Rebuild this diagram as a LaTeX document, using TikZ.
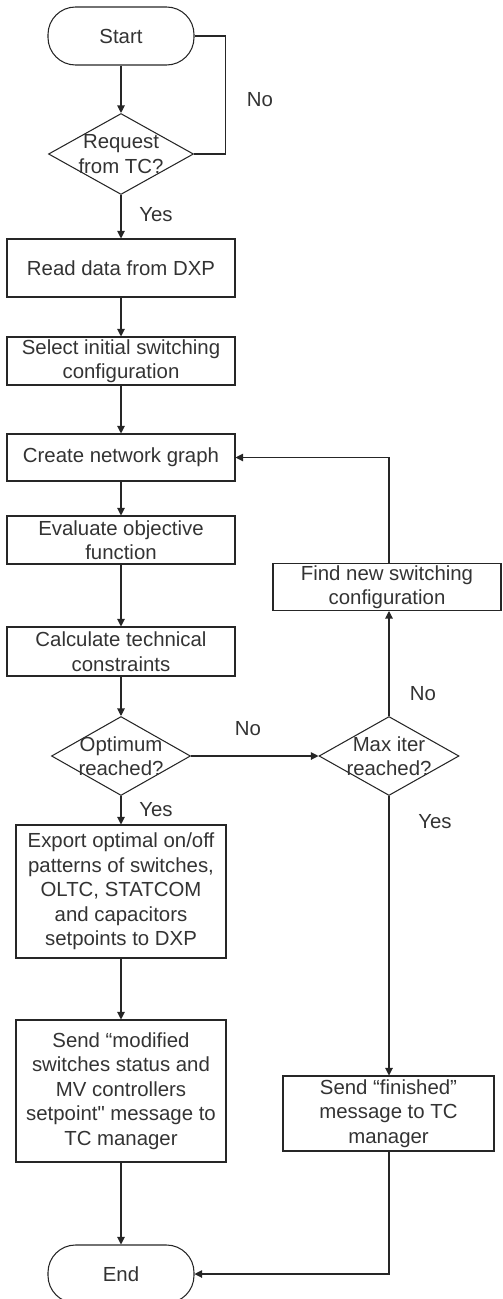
\documentclass[tikz,border=0pt]{standalone}
\usepackage{fontspec}
\setmainfont{Liberation Sans}
\usepackage{tikz}
\usetikzlibrary{shapes,arrows,positioning,calc,arrows.meta}

\begin{document}
\begin{tikzpicture}[
    line width=0.6pt,
    draw=black!85,
    font=\fontsize{11.6}{13.9}\selectfont,
    every node/.style={text=black!80},
    >={Triangle[length=0.15cm, width=0.15cm]},
    process/.style={rectangle, draw, line width=0.6pt, align=center, inner sep=1pt},
    terminal/.style={rectangle, draw, line width=0.6pt, rounded corners=0.55cm, minimum width=2.92cm, minimum height=1.16cm},
    decision/.style={diamond, draw, line width=0.6pt, inner sep=0pt}
]
    \useasboundingbox (0,0) rectangle (10.04,-25.98);

    \node[terminal] (start) at (2.42, -0.72) {Start};
    \node[decision, minimum width=2.9cm, minimum height=1.62cm, label={[align=center]center:Request\\from TC?}] (req) at (2.42, -3.08) {};
    \node[process, minimum width=4.56cm, minimum height=1.16cm] (read) at (2.42, -5.36) {Read data from DXP};
    \node[process, minimum width=4.56cm, minimum height=0.96cm] (select) at (2.42, -7.22) {Select initial switching\\configuration};
    \node[process, minimum width=4.56cm, minimum height=0.94cm] (graph) at (2.42, -9.15) {Create network graph};
    \node[process, minimum width=4.56cm, minimum height=0.96cm] (eval) at (2.42, -10.8) {Evaluate objective\\function};
    \node[process, minimum width=4.56cm, minimum height=0.98cm] (constr) at (2.42, -13.03) {Calculate technical\\constraints};
    \node[decision, minimum width=2.78cm, minimum height=1.58cm, label={[align=center]center:Optimum\\reached?}] (opt) at (2.42, -15.12) {};
    \node[decision, minimum width=2.8cm, minimum height=1.58cm, label={[align=center]center:Max iter\\reached?}] (maxit) at (7.78, -15.12) {};
    \node[process, minimum width=4.56cm, minimum height=0.92cm] (newcfg) at (7.74, -11.74) {Find new switching\\configuration};
    \node[process, minimum width=4.2cm, minimum height=2.66cm] (export) at (2.42, -17.83) {Export optimal on/off\\patterns of switches,\\OLTC, STATCOM\\and capacitors\\setpoints to DXP};
    \node[process, minimum width=4.2cm, minimum height=2.84cm] (sendmod) at (2.42, -21.82) {Send “modified\\switches status and\\MV controllers\\setpoint\textquotedbl{} message to\\TC manager};
    \node[process, minimum width=4.22cm, minimum height=1.5cm] (sendfin) at (7.77, -22.27) {Send “finished”\\message to TC\\manager};
    \node[terminal] (stop) at (2.42, -25.48) {End};

    \draw[->] (start) -- (req);
    \draw (req.east) -- ++(0.62, 0) |- (start.east);
    \node (no1) at (5.2, -2.0) {No};
    \draw[->] (req) -- (read);
    \node (yes1) at (3.12, -4.3) {Yes};
    \draw[->] (read) -- (select);
    \draw[->] (select) -- (graph);
    \draw[->] (graph) -- (eval);
    \draw[->] (eval) -- (constr);
    \draw[->] (constr) -- (opt);

    % No branch
    \draw[->] (opt.east) -- (maxit.west);
    \node (no2) at (4.96, -14.58) {No};
    \draw[->] (maxit.north) -- (maxit.north |- newcfg.south);
    \node (no3) at (8.46, -13.88) {No};
    \draw[->] (maxit.north |- newcfg.north) |- (graph.east);
    \draw[->] (maxit.south) -- (sendfin.north -| maxit.south);
    \node (yes3) at (8.7, -16.44) {Yes};
    \draw[->] (sendfin.south -| maxit.south) |- (stop.east);

    % Yes branch
    \draw[->] (opt.south) -- (export.north);
    \node (yes2) at (3.12, -16.2) {Yes};
    \draw[->] (export) -- (sendmod);
    \draw[->] (sendmod) -- (stop);

\end{tikzpicture}
\end{document}
